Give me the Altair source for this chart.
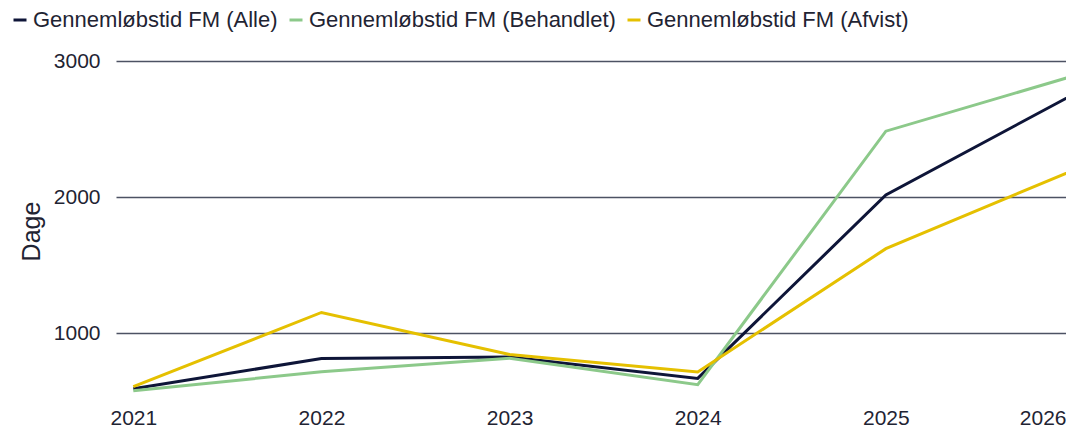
import altair as alt
import pandas as pd

years = [2021, 2022, 2023, 2024, 2025, 2026]
series_names = ["Gennemløbstid FM (Alle)", "Gennemløbstid FM (Behandlet)", "Gennemløbstid FM (Afvist)"]
alle = [590, 812, 823, 666, 2015, 2757]
behandlet = [575, 715, 815, 620, 2484, 2891]
afvist = [605, 1151, 842, 713, 1620, 2199]
colors = ["#0e1538", "#8cc98a", "#e5c000"]

rows = []
for name, vals in zip(series_names, [alle, behandlet, afvist]):
    for y, v in zip(years, vals):
        rows.append({"year": y, "series": name, "value": v})
df = pd.DataFrame(rows)
df["order"] = df["series"].map({series_names[1]: 0, series_names[0]: 1, series_names[2]: 2})

FONT = "Liberation Sans"
TXT = "#1f2433"

chart = alt.Chart(df).mark_line(strokeWidth=3, clip=True).encode(
    x=alt.X("year:Q",
            scale=alt.Scale(domain=[2020.908, 2026], range=[0, 958], nice=False, zero=False),
            axis=alt.Axis(values=years, format="d", title=None, grid=False, domain=False,
                          ticks=False, labelPadding=6, labelFontSize=21, labelColor=TXT,
                          labelFont=FONT, labelFlush=False, labelOverlap=False, labelBound=False,
                          labelAlign={"condition": {"test": "datum.value == 2026", "value": "right"}, "value": "center"},
                          labelOffset={"condition": {"test": "datum.value == 2026", "value": -8}, "value": 0})),
    y=alt.Y("value:Q",
            scale=alt.Scale(domain=[500, 3000], nice=False, zero=False),
            axis=alt.Axis(values=[1000, 2000, 3000], format="d", title="Dage", grid=True, gridColor="#4d5263",
                          gridWidth=1.5, domain=False, ticks=False, labelPadding=16,
                          labelFontSize=21, labelColor=TXT, labelFont=FONT,
                          titleFontSize=25, titleFont=FONT, titleColor=TXT, titleFontWeight="normal",
                          titlePadding=9)),
    color=alt.Color("series:N",
                    scale=alt.Scale(domain=series_names, range=colors),
                    legend=alt.Legend(title=None, orient="none", direction="horizontal",
                                      legendX=-107, legendY=-52, symbolType="stroke",
                                      symbolSize=169, symbolStrokeWidth=3, labelFontSize=22,
                                      labelFont=FONT, labelColor=TXT, labelOffset=2,
                                      columnPadding=5, labelLimit=400)),
    order=alt.Order("order:Q"),
).properties(
    width=950, height=340,
    autosize=alt.AutoSizeParams(type="none"),
    padding={"left": 108, "top": 53, "right": 0, "bottom": 26},
).configure_view(stroke=None)

chart.save("out.html", embed_options={"renderer": "svg", "actions": False})
